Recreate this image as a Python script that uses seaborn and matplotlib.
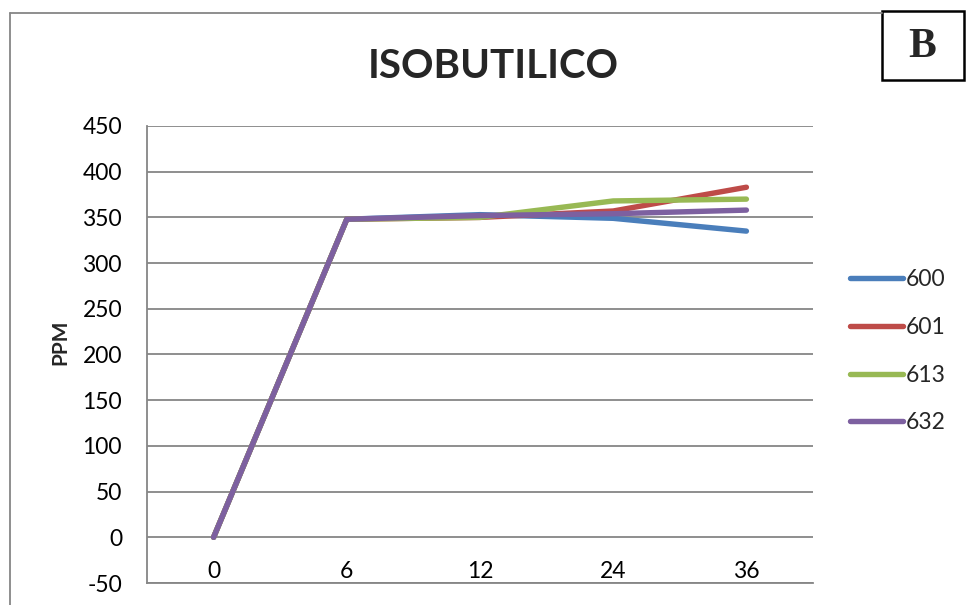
import numpy as np
import pandas as pd
import matplotlib
matplotlib.use("Agg")
import matplotlib.pyplot as plt
import seaborn as sns
from matplotlib.patches import Rectangle
from matplotlib.lines import Line2D

# data
hours = ["0", "6", "12", "24", "36"]
s600 = [0, 348, 353, 349, 335]
s601 = [0, 348, 350, 357, 383]
s613 = [0, 348, 350, 368, 370]
s632 = [0, 348, 352, 354, 358]
series = ["600", "601", "613", "632"]
colors = ["#4a7ebb", "#be4b48", "#98b954", "#7d60a0"]

rows = []
for name, vals in zip(series, [s600, s601, s613, s632]):
    for i, v in enumerate(vals):
        rows.append({"pos": i, "hora": hours[i], "ppm": v, "serie": name})
df = pd.DataFrame(rows)

sns.set_style("white")
plt.rcParams['font.family'] = ['Lato', 'DejaVu Sans']
plt.rcParams['axes.unicode_minus'] = False

fig = plt.figure(figsize=(9.66, 6.05), dpi=100)
ax = fig.add_axes([147/966, 1 - 583/605, (813-147)/966, (583-126)/605])

sns.lineplot(data=df, x="pos", y="ppm", hue="serie", palette=colors,
             linewidth=3.9, ax=ax, legend=False, sort=False)
for ln in ax.lines:
    ln.set_solid_capstyle("round")
    ln.set_solid_joinstyle("miter")

ax.set_xlim(-0.5, 4.5)
ax.set_ylim(-50, 450)
ax.set_yticks(np.arange(-50, 451, 50))
ax.set_xticks(range(len(hours)))
ax.set_xticklabels(hours)
ax.tick_params(axis="both", labelsize=16.5, length=0, colors="black")
ax.tick_params(axis="x", pad=-16)
ax.tick_params(axis="y", pad=18)
ax.yaxis.grid(True, color="#868686", linewidth=1.3)
ax.set_axisbelow(True)
for side in ["top", "right"]:
    ax.spines[side].set_visible(False)
for side in ["left", "bottom"]:
    ax.spines[side].set_color("#868686")
    ax.spines[side].set_linewidth(1.3)
ax.set_xlabel("")
ax.set_ylabel("PPM", fontsize=15, fontweight="bold")
ax.yaxis.set_label_coords((70 - 147) / (813 - 147), (583 - 342) / (583 - 126))

fig.text(493/966, 1 - 66/605, "ISOBUTILICO", fontsize=29, fontweight="bold",
         ha="center", va="center")

# outer chart frame (left and top edges)
fig.add_artist(Line2D([10/966, 10/966], [0, 1 - 13/605], color="#868686", lw=1.3))
fig.add_artist(Line2D([10/966, 882/966], [1 - 13/605, 1 - 13/605], color="#868686", lw=1.3))
# the "B" box
fig.add_artist(Rectangle((882/966, 1 - 80/605), 82/966, 69/605, fill=False,
                         edgecolor="black", lw=1.8, transform=fig.transFigure))
fig.text(922/966, 1 - 47/605, "B", fontsize=30, fontweight="bold", ha="center",
         va="center", family=["Liberation Serif", "DejaVu Serif"])

handles = [Line2D([], [], color=c, lw=3.9, solid_capstyle="round") for c in colors]
fig.legend(handles, series, loc="upper left", bbox_to_anchor=(850/966, 1 - 269/605),
           frameon=False, fontsize=16.5, handlelength=2.3, handletextpad=0.15,
           labelspacing=1.17, borderaxespad=0, borderpad=0)

fig.savefig("out.png", dpi=100)
